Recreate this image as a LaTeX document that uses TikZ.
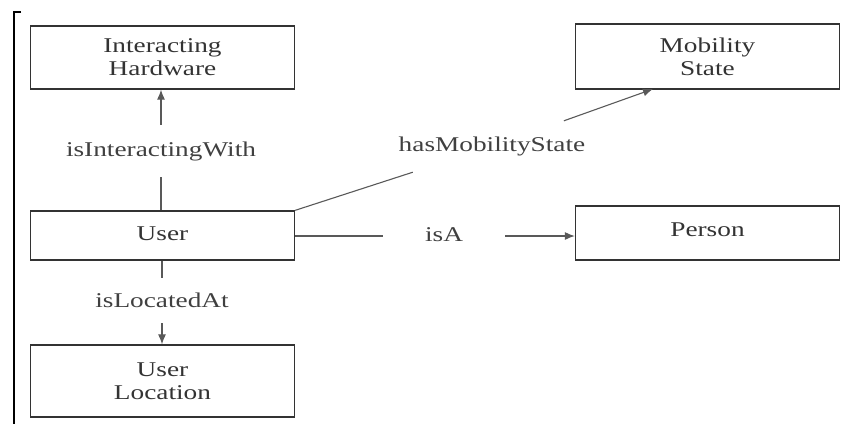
\documentclass[tikz,border=0pt]{standalone}
\usepackage{fontspec}
\setmainfont{Liberation Serif}[FakeStretch=1.3]
\usetikzlibrary{arrows.meta,positioning}

\tikzset{
    klass/.style={draw=black!80, line width=1.3pt, minimum width=264pt,
        align=center, inner sep=0pt, text=black!80},
    rel/.style={inner xsep=6pt, inner ysep=0pt, text=black!75},
    link/.style={draw=black!65, line width=1.1pt},
    >={Latex[length=10pt,width=8pt]}
}

\begin{document}
\begin{tikzpicture}[x=1pt, y=-1pt, font=\fontsize{21}{23}\selectfont]
        \useasboundingbox (0,0) rectangle (843,424);

        % left bracket
        \draw[line width=1.5pt] (21,12) -- (14,12) -- (14,424);

        % classes
        \node[klass, minimum height=63pt] (hw) at (162.5,57.5)
            {Interacting\\Hardware};
        \node[klass, minimum height=49pt] (user) at (162.5,235.5)
            {\raisebox{4pt}{User}};
        \node[klass, minimum height=72pt] (loc) at (162.5,381)
            {User\\Location};
        \node[klass, minimum height=65pt] (mob) at (707.5,56.5)
            {Mobility\\State};
        \node[klass, minimum height=54pt] (person) at (707.5,233)
            {\raisebox{6pt}{Person}};

        % relations
        \node[rel, minimum height=52pt] (isint) at (161,151)
            {\raisebox{-5pt}{isInteractingWith}};
        \node[rel, minimum height=45pt] (isloc) at (162,300.5) {isLocatedAt};
        \node[rel, inner xsep=0pt, minimum height=51pt] (hasmob) at (492,146.5)
            {hasMobilityState};
        \node[rel, inner xsep=42pt, minimum height=30pt] (isa) at (444,236)
            {\raisebox{3pt}{isA}};
        \coordinate (mobin) at (653,89);

        \draw[link] (user.north -| isint) -- (isint);
        \draw[link,->] (isint) -- (hw.south -| isint);
        \draw[link] (user.south -| isloc) -- (isloc);
        \draw[link,->] (isloc) -- (loc.north -| isloc);
        \draw[link] (user.north east) -- (hasmob);
        \draw[link,->] (hasmob) -- (mobin);
        \draw[link] (user.east |- isa) -- (isa);
        \draw[link,->] (isa) -- (person.west |- isa);
    \end{tikzpicture}
\end{document}
